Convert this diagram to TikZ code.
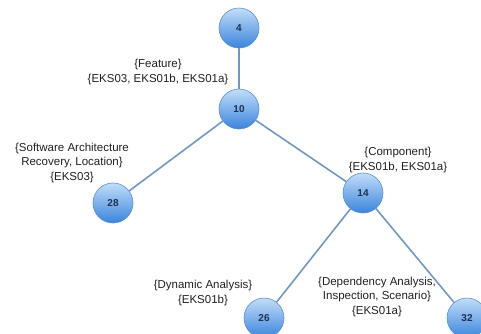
\documentclass[tikz,border=0pt]{standalone}
\usepackage{fontspec}
\setmainfont{Liberation Sans}
\definecolor{balltop}{HTML}{C2DDF9}
\definecolor{ballbot}{HTML}{3A84DC}
\definecolor{ballrim}{HTML}{5A90CC}
\definecolor{linkcol}{HTML}{7098C2}
\definecolor{numcol}{HTML}{1F3050}
\definecolor{labcol}{HTML}{202020}
\begin{document}
\begin{tikzpicture}[x=1pt,y=-1pt,
  ball/.style={circle,minimum size=40pt,inner sep=0pt,draw=ballrim,line width=0.6pt,
    top color=balltop,bottom color=ballbot,
    font=\fontsize{10}{11}\selectfont\bfseries,text=numcol},
  link/.style={draw=linkcol,line width=1.6pt},
  lab/.style={align=center,font=\fontsize{11.5}{14.5}\selectfont,text=labcol,inner sep=0pt}]
\useasboundingbox (0,0) rectangle (481,333);
% tree nodes
\node[ball] (n4)  at (239,28)  {4};
\node[ball] (n10) at (239,109) {10};
\node[ball] (n28) at (113,203) {28};
\node[ball] (n14) at (363,193) {14};
\node[ball] (n26) at (264,318) {26};
\node[ball] (n32) at (467,318) {32};
% connectors
\draw[link] (n4) -- (n10);
\draw[link] (n10) -- (n28);
\draw[link] (n10) -- (n14);
\draw[link] (n14) -- (n26);
\draw[link] (n14) -- (n32);
% edge labels
\node[lab] (feat) at (158,72) {\{Feature\}\\\{EKS03, EKS01b, EKS01a\}};
\node[lab] (sarl) at (72,163) {\{Software Architecture\\Recovery, Location\}\\\{EKS03\}};
\node[lab] (comp) at (398,160) {\{Component\}\\\{EKS01b, EKS01a\}};
\node[lab] (dyn) at (203,293) {\{Dynamic Analysis\}\\\{EKS01b\}};
\node[lab] (dep) at (377,297) {\{Dependency Analysis,\\Inspection, Scenario\}\\\{EKS01a\}};
\end{tikzpicture}
\end{document}
